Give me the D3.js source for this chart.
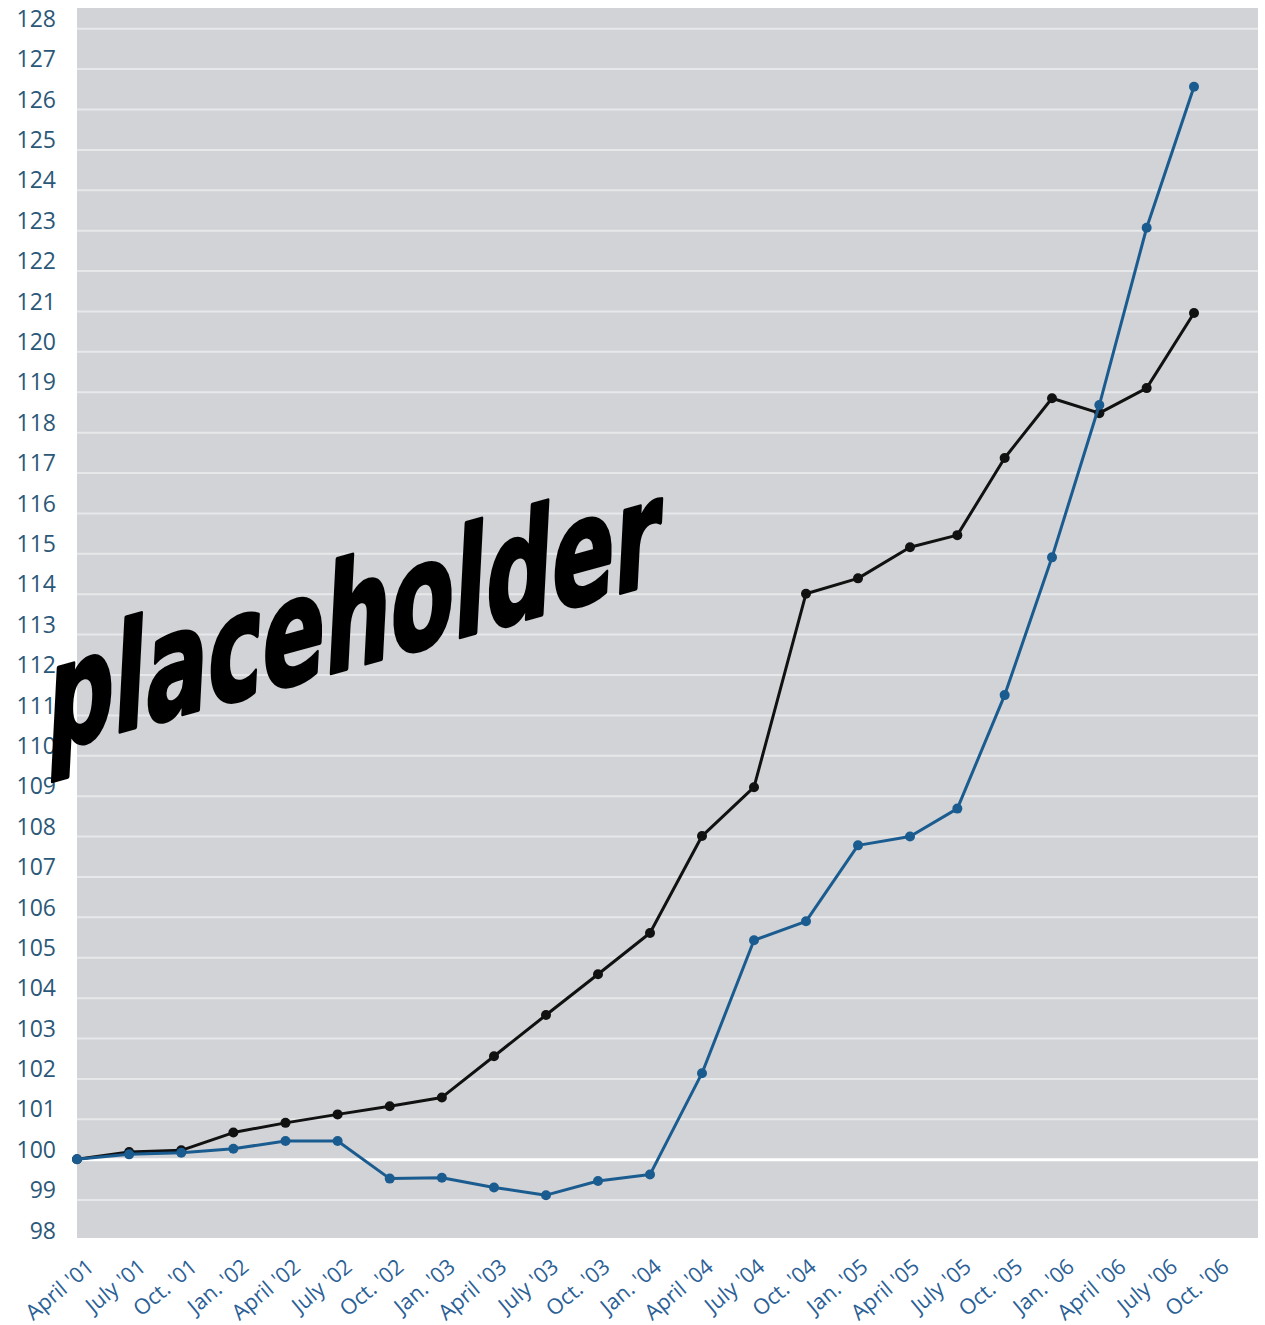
<!DOCTYPE html>
<html>
<meta charset="utf-8">
<script src="https://d3js.org/d3.v7.min.js"></script>
<body style="margin:0;background:#fff">
<script>

// quarters, April '01 .. Oct. '06
var quarters = ["April '01", "July '01", "Oct. '01", "Jan. '02", "April '02", "July '02", "Oct. '02", "Jan. '03",
  "April '03", "July '03", "Oct. '03", "Jan. '04", "April '04", "July '04", "Oct. '04", "Jan. '05",
  "April '05", "July '05", "Oct. '05", "Jan. '06", "April '06", "July '06", "Oct. '06"];

// index values (April '01 = 100)
var blackSeries = [100, 100.18, 100.22, 100.66, 100.9, 101.11, 101.31, 101.53,
  102.55, 103.57, 104.58, 105.6, 108.0, 109.21, 114.0, 114.38,
  115.15, 115.45, 117.36, 118.84, 118.47, 119.09, 120.95];
var blueSeries = [100, 100.12, 100.16, 100.26, 100.45, 100.45, 99.52, 99.54,
  99.3, 99.11, 99.46, 99.62, 102.13, 105.42, 105.89, 107.77,
  107.99, 108.68, 111.49, 114.9, 118.67, 123.06, 126.55];

var yTicks = d3.range(98, 129);

var W = 1265, H = 1325;
var plot = {left: 77, right: 1258, top: 8, bottom: 1240};

var svg = d3.select("body").append("svg")
  .attr("width", W)
  .attr("height", H)
  .style("display", "block");

var y = d3.scaleLinear().domain([98, 128.5]).range([plot.bottom, plot.top]);
// the original spaces its quarters a bit unevenly, so a piecewise scale on the index
var x = d3.scaleLinear().domain([0, 8, 16, 22]).range([77, 494, 910, 1194]);
// tick labels are spread evenly and sit a little right of the points
var xLab = d3.scalePoint().domain(quarters).range([95, 1230]);

svg.append("rect")
  .attr("x", plot.left).attr("y", plot.top)
  .attr("width", plot.right - plot.left)
  .attr("height", plot.bottom - 2 - plot.top)
  .attr("fill", "#d1d3d6");

// gridlines
var yAx = d3.axisLeft(y).tickValues(yTicks).tickSize(-(plot.right - plot.left)).tickFormat(d3.format("d"));
var yG = svg.append("g")
  .attr("transform", `translate(${plot.left},0)`)
  .call(yAx);
yG.select(".domain").remove();
yG.selectAll(".tick line")
  .attr("stroke", function(d){ return d == 100 ? "#ffffff" : "#e7e8ea"; })
  .attr("stroke-width", function(d){ return d == 100 ? 3 : 2; })
  .style("display", function(d){ return d == 98 ? "none" : null; });
yG.selectAll(".tick text")
  .attr("x", -21)
  .attr("dy", "-0.08em")
  .attr("fill", "#2b5878")
  .style("font-family", "'Open Sans', sans-serif")
  .style("font-size", "23px");

// x labels
var xAx = d3.axisBottom(xLab).tickSize(0);
var xG = svg.append("g")
  .attr("transform", `translate(0,${plot.bottom + 29})`)
  .call(xAx);
xG.select(".domain").remove();
xG.selectAll(".tick text")
  .attr("y", 0).attr("dy", 0)
  .attr("text-anchor", "end")
  .attr("transform", "rotate(-40)")
  .attr("fill", "#2a6096")
  .style("font-family", "'Open Sans', sans-serif")
  .style("font-size", "21.5px");

var line = d3.line()
  .x(function(d, i){ return x(i); })
  .y(function(d){ return y(d); });

function drawSeries(vals, color) {
  svg.append("path")
    .datum(vals)
    .attr("d", line)
    .attr("fill", "none")
    .attr("stroke", color)
    .attr("stroke-width", 3)
    .attr("stroke-linejoin", "round");
  svg.append("g").selectAll("circle")
    .data(vals)
    .enter().append("circle")
    .attr("cx", function(d, i){ return x(i); })
    .attr("cy", function(d){ return y(d); })
    .attr("r", 5)
    .attr("fill", color);
}
drawSeries(blackSeries, "#111111");
drawSeries(blueSeries, "#1b5c90");

// placeholder stamp over the chart
svg.append("text")
  .attr("transform", "translate(46,752) skewY(-15.5) skewX(-3)")
  .attr("textLength", 612)
  .attr("lengthAdjust", "spacingAndGlyphs")
  .style("font-family", "'DejaVu Sans', sans-serif")
  .style("font-weight", "bold")
  .style("font-size", "148px")
  .attr("fill", "#000")
  .attr("stroke", "#000")
  .attr("stroke-width", 4)
  .attr("stroke-linejoin", "round")
  .text("placeholder");

</script>
</body>
</html>
